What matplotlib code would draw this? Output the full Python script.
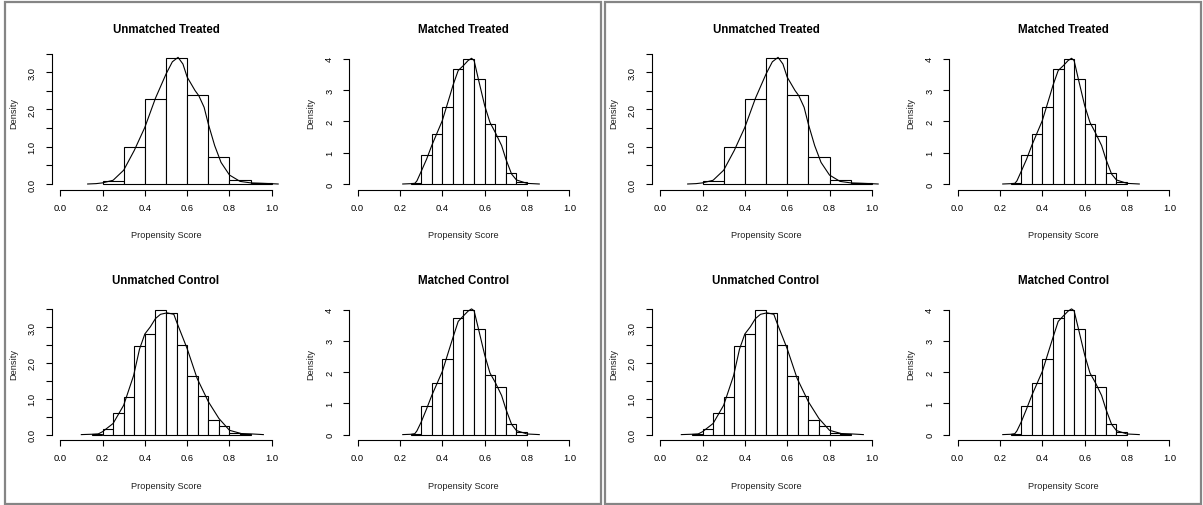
import matplotlib
matplotlib.use("Agg")
import matplotlib.pyplot as plt
from matplotlib.patches import Rectangle

# ---------------- data ----------------
titles = ["Unmatched Treated", "Matched Treated", "Unmatched Control", "Matched Control"]

ut_edges = [0.2, 0.3, 0.4, 0.5, 0.6, 0.7, 0.8, 0.9, 1.0]
ut_density = [0.07, 0.98, 2.28, 3.38, 2.39, 0.72, 0.10, 0.02]
ut_curve_x = [0.13, 0.17, 0.20, 0.25, 0.30, 0.35, 0.40, 0.45, 0.50, 0.53, 0.557, 0.58,
              0.60, 0.637, 0.655, 0.68, 0.70, 0.73, 0.76, 0.80, 0.85, 0.90, 0.95, 1.03]
ut_curve_y = [0.0, 0.01, 0.03, 0.10, 0.37, 0.90, 1.52, 2.30, 2.95, 3.28, 3.40, 3.22,
              2.87, 2.51, 2.37, 2.06, 1.61, 1.03, 0.58, 0.24, 0.07, 0.03, 0.02, 0.0]

mt_edges = [0.25, 0.30, 0.35, 0.40, 0.45, 0.50, 0.55, 0.60, 0.65, 0.70, 0.75, 0.80]
mt_density = [0.03, 0.94, 1.61, 2.47, 3.68, 4.00, 3.35, 1.92, 1.53, 0.34, 0.075]
mt_curve_x = [0.213, 0.25, 0.27, 0.28, 0.30, 0.326, 0.35, 0.40, 0.436, 0.45, 0.475, 0.50,
              0.522, 0.538, 0.55, 0.57, 0.60, 0.625, 0.65, 0.68, 0.70, 0.727, 0.75, 0.80, 0.858]
mt_curve_y = [0.0, 0.01, 0.02, 0.10, 0.40, 0.80, 1.23, 2.03, 2.83, 3.15, 3.63, 3.79,
              3.95, 4.02, 3.95, 3.36, 2.51, 1.97, 1.65, 1.23, 0.80, 0.32, 0.13, 0.02, 0.0]

uc_edges = [0.15, 0.20, 0.25, 0.30, 0.35, 0.40, 0.45, 0.50, 0.55, 0.60, 0.65, 0.70,
            0.75, 0.80, 0.85, 0.90]
uc_density = [0.02, 0.17, 0.59, 1.06, 2.48, 2.82, 3.49, 3.40, 2.51, 1.65, 1.07, 0.42,
              0.23, 0.05, 0.03]
uc_curve_x = [0.10, 0.15, 0.18, 0.20, 0.25, 0.30, 0.347, 0.375, 0.40, 0.426, 0.45, 0.474,
              0.505, 0.537, 0.55, 0.60, 0.647, 0.70, 0.75, 0.80, 0.855, 0.90, 0.96]
uc_curve_y = [0.0, 0.01, 0.02, 0.08, 0.31, 0.82, 1.65, 2.39, 2.81, 3.01, 3.24, 3.36,
              3.40, 3.36, 3.15, 2.40, 1.57, 0.92, 0.45, 0.12, 0.03, 0.02, 0.0]

mc_edges = [0.25, 0.30, 0.35, 0.40, 0.45, 0.50, 0.55, 0.60, 0.65, 0.70, 0.75, 0.80]
mc_density = [0.03, 0.91, 1.64, 2.43, 3.73, 4.00, 3.38, 1.90, 1.53, 0.34, 0.085]
mc_curve_x = [0.213, 0.25, 0.27, 0.28, 0.30, 0.326, 0.35, 0.40, 0.436, 0.45, 0.475, 0.50,
              0.522, 0.538, 0.55, 0.57, 0.60, 0.625, 0.65, 0.68, 0.70, 0.727, 0.75, 0.80, 0.858]
mc_curve_y = [0.0, 0.01, 0.03, 0.12, 0.40, 0.83, 1.25, 2.02, 2.80, 3.10, 3.62, 3.80,
              3.95, 4.02, 3.96, 3.40, 2.55, 1.97, 1.67, 1.25, 0.82, 0.33, 0.13, 0.02, 0.0]

x_ticks = [0.0, 0.2, 0.4, 0.6, 0.8, 1.0]
x_tick_labels = ["0.0", "0.2", "0.4", "0.6", "0.8", "1.0"]
y_ticks_a = [0.0, 0.5, 1.0, 1.5, 2.0, 2.5, 3.0, 3.5]
y_tick_labels_a = ["0.0", "", "1.0", "", "2.0", "", "3.0", ""]
y_ticks_b = [0, 1, 2, 3, 4]
y_tick_labels_b = ["0", "1", "2", "3", "4"]
x_label = "Propensity Score"
y_label = "Density"

# ---------------- layout ----------------
W, H = 1203, 506
plt.rcParams["font.family"] = ["Liberation Sans", "DejaVu Sans"]
fig = plt.figure(figsize=(W / 100, H / 100), dpi=100)

AW, AH = 228.6, 153.9
specs = [
    (titles[0], ut_edges, ut_density, ut_curve_x, ut_curve_y, 3.825, y_ticks_a, y_tick_labels_a, 51.7, 36.8),
    (titles[1], mt_edges, mt_density, mt_curve_x, mt_curve_y, 4.557, y_ticks_b, y_tick_labels_b, 349.2, 36.8),
    (titles[2], uc_edges, uc_density, uc_curve_x, uc_curve_y, 3.98, y_ticks_a, y_tick_labels_a, 51.7, 287.4),
    (titles[3], mc_edges, mc_density, mc_curve_x, mc_curve_y, 4.557, y_ticks_b, y_tick_labels_b, 349.2, 287.4),
]

LW = 0.8
for off in (0, 600):
    for (title, edges, dens, cx, cy, M, yt, ytl, L, T) in specs:
        ax = fig.add_axes([(L + off) / W, 1 - (T + AH) / H, AW / W, AH / H])
        widths = [edges[i + 1] - edges[i] for i in range(len(dens))]
        ax.bar(edges[:-1], dens, width=widths, align="edge", facecolor="white",
               edgecolor="black", linewidth=LW)
        ax.plot(cx, cy, color="black", linewidth=LW)
        ax.set_xlim(-0.04, 1.04)
        ax.set_ylim(-0.04 * M, 1.04 * M)
        for s in ("top", "right"):
            ax.spines[s].set_visible(False)
        ax.spines["left"].set_bounds(yt[0], yt[-1])
        ax.spines["bottom"].set_bounds(0, 1)
        ax.spines["left"].set_linewidth(LW)
        ax.spines["bottom"].set_linewidth(LW)
        ax.set_xticks(x_ticks)
        ax.set_xticklabels(x_tick_labels)
        ax.set_yticks(yt)
        ax.set_yticklabels(ytl, rotation=90, va="center")
        ax.tick_params(axis="both", length=4.3, width=LW, labelsize=6.7, colors="black")
        ax.tick_params(axis="x", pad=5.0)
        ax.tick_params(axis="y", pad=6.5)
        ax.set_xlabel(x_label, fontsize=6.7, color="#222222")
        ax.xaxis.set_label_coords(0.5, -45.0 / AH)
        ax.set_ylabel(y_label, fontsize=6.7, color="#222222")
        ax.yaxis.set_label_coords(-38.4 / AW, (185 - 112) / AH if False else 0.5)
        ax.xaxis.label.set_va("center")
        ax.yaxis.label.set_va("center")
        ax.text(0.5, 1 + 6.8 / AH, title, transform=ax.transAxes, ha="center",
                va="center", fontsize=8.3, fontweight="bold")

# panel borders
for (x0, x1) in ((4.5, 601.3), (605.3, 1201.0)):
    y0, y1 = 3.0, 504.5
    fig.add_artist(Rectangle((x0 / W, 1 - y1 / H), (x1 - x0) / W, (y1 - y0) / H,
                             transform=fig.transFigure, fill=False,
                             edgecolor="#858585", linewidth=1.6))

fig.savefig("out.png", dpi=100)
